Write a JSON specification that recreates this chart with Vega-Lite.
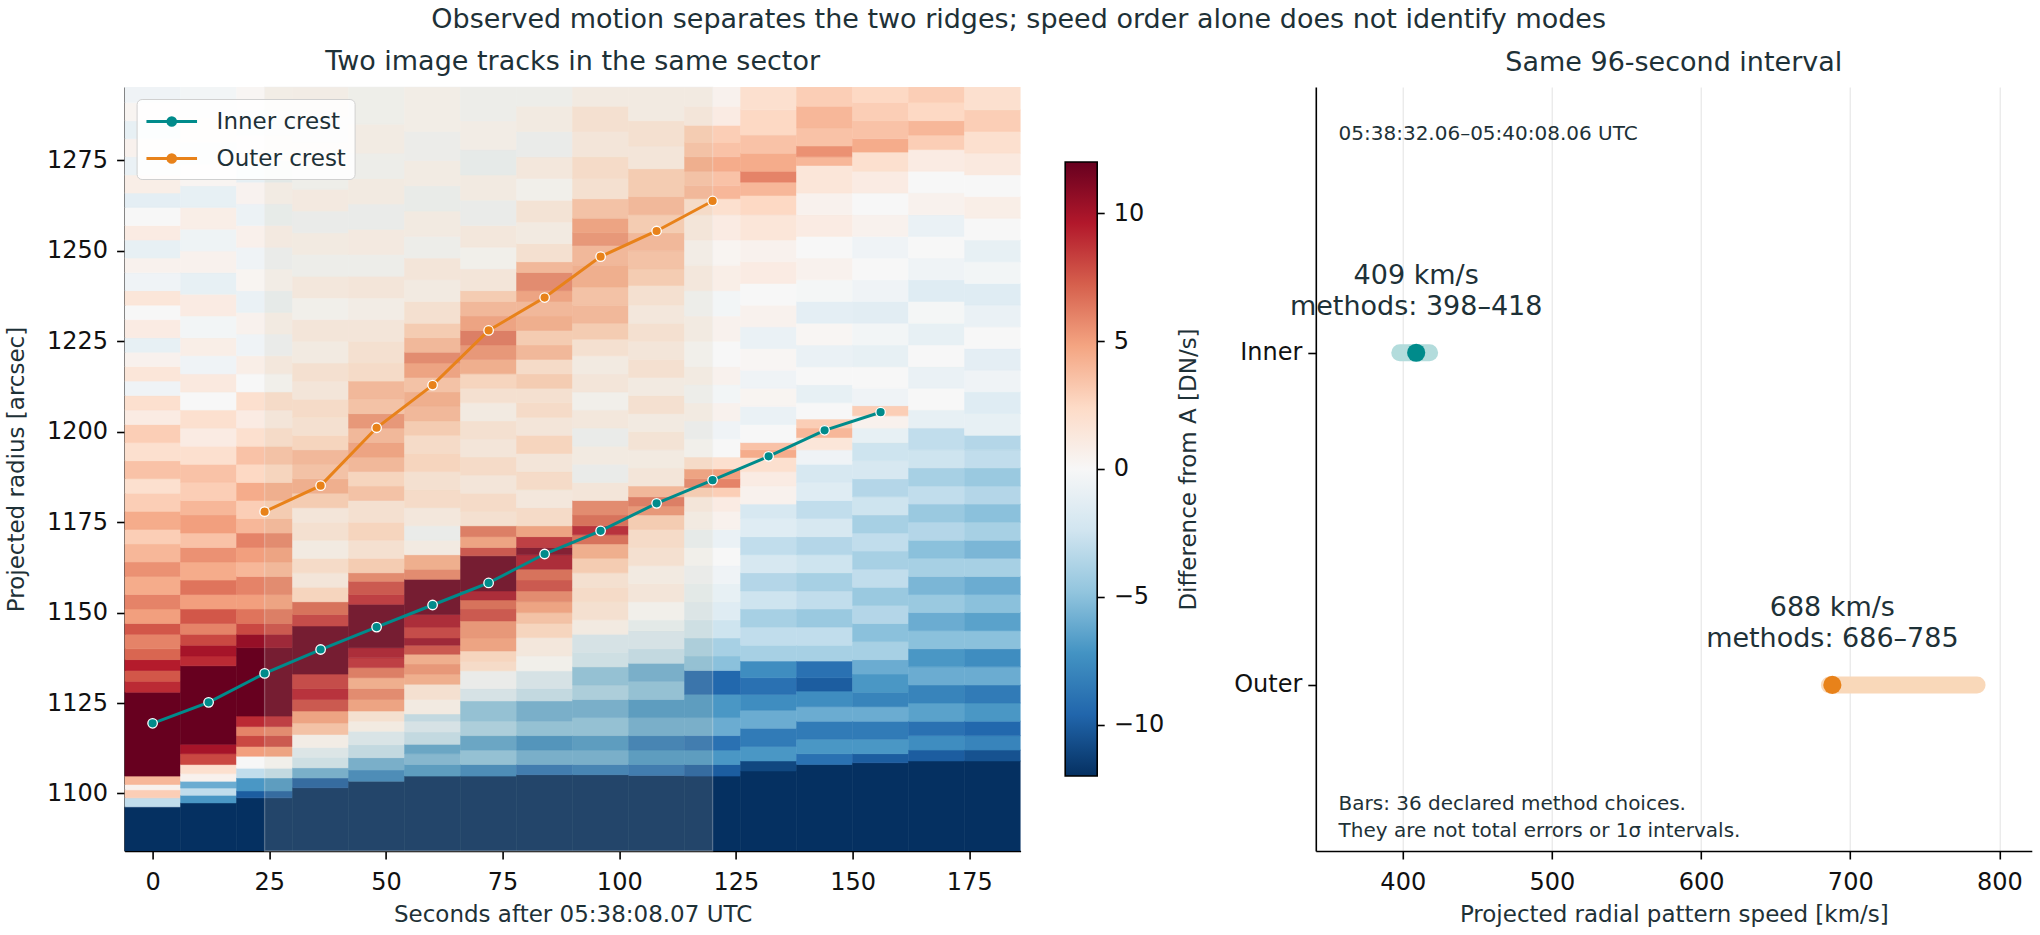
{
  "$schema": "https://vega.github.io/schema/vega-lite/v6.json",
  "padding": {"left": 4.6, "top": 6, "right": 4, "bottom": 4},
  "title": {"text": "Observed motion separates the two ridges; speed order alone does not identify modes", "anchor": "middle", "fontSize": 27, "offset": 14},
  "datasets": {
    "crest": [
      {"s": "Inner crest", "t": 0, "r": 1119.4}, {"s": "Inner crest", "t": 12, "r": 1125.2}, {"s": "Inner crest", "t": 24, "r": 1133.2},
      {"s": "Inner crest", "t": 36, "r": 1139.8}, {"s": "Inner crest", "t": 48, "r": 1146.0}, {"s": "Inner crest", "t": 60, "r": 1152.1},
      {"s": "Inner crest", "t": 72, "r": 1158.2}, {"s": "Inner crest", "t": 84, "r": 1166.2}, {"s": "Inner crest", "t": 96, "r": 1172.6},
      {"s": "Inner crest", "t": 108, "r": 1180.2}, {"s": "Inner crest", "t": 120, "r": 1186.6}, {"s": "Inner crest", "t": 132, "r": 1193.2},
      {"s": "Inner crest", "t": 144, "r": 1200.4}, {"s": "Inner crest", "t": 156, "r": 1205.4},
      {"s": "Outer crest", "t": 24, "r": 1177.9}, {"s": "Outer crest", "t": 36, "r": 1185.1}, {"s": "Outer crest", "t": 48, "r": 1201.1},
      {"s": "Outer crest", "t": 60, "r": 1212.9}, {"s": "Outer crest", "t": 72, "r": 1228.0}, {"s": "Outer crest", "t": 84, "r": 1237.1},
      {"s": "Outer crest", "t": 96, "r": 1248.4}, {"s": "Outer crest", "t": 108, "r": 1255.5}, {"s": "Outer crest", "t": 120, "r": 1263.8}
    ],
    "speed": [
      {"k": 1, "v": 409, "lo": 398, "hi": 418, "lab": ["409 km/s", "methods: 398–418"]},
      {"k": 0, "v": 688, "lo": 686, "hi": 785, "lab": ["688 km/s", "methods: 686–785"]}
    ],
    "heat": [
      {"t":-6,"u":6,"r":1083,"q":1096.3,"v":-12},{"t":-6,"u":6,"r":1096.3,"q":1098.8,"v":-3},{"t":-6,"u":6,"r":1098.8,"q":1101,"v":3},{"t":-6,"u":6,"r":1101,"q":1102.5,"v":0.5},
      {"t":-6,"u":6,"r":1102.5,"q":1104.8,"v":4},{"t":-6,"u":6,"r":1104.8,"q":1128,"v":12},{"t":-6,"u":6,"r":1128,"q":1131,"v":9},{"t":-6,"u":6,"r":1131,"q":1134,"v":7.5},
      {"t":-6,"u":6,"r":1134,"q":1137,"v":9.5},{"t":-6,"u":6,"r":1137,"q":1140,"v":7},{"t":-6,"u":6,"r":1140,"q":1144,"v":6},{"t":-6,"u":6,"r":1144,"q":1147,"v":7.5},
      {"t":-6,"u":6,"r":1147,"q":1151,"v":5},{"t":-6,"u":6,"r":1151,"q":1155,"v":6},{"t":-6,"u":6,"r":1155,"q":1160,"v":4.5},{"t":-6,"u":6,"r":1160,"q":1164,"v":5.5},
      {"t":-6,"u":6,"r":1164,"q":1169,"v":4},{"t":-6,"u":6,"r":1169,"q":1173,"v":3},{"t":-6,"u":6,"r":1173,"q":1178,"v":4.5},{"t":-6,"u":6,"r":1178,"q":1183,"v":3},
      {"t":-6,"u":6,"r":1183,"q":1187,"v":2},{"t":-6,"u":6,"r":1187,"q":1192,"v":3.5},{"t":-6,"u":6,"r":1192,"q":1197,"v":2},{"t":-6,"u":6,"r":1197,"q":1202,"v":3},
      {"t":-6,"u":6,"r":1202,"q":1206,"v":1},{"t":-6,"u":6,"r":1206,"q":1210,"v":2},{"t":-6,"u":6,"r":1210,"q":1214,"v":-0.5},{"t":-6,"u":6,"r":1214,"q":1218,"v":1.5},
      {"t":-6,"u":6,"r":1218,"q":1222,"v":0.5},{"t":-6,"u":6,"r":1222,"q":1226,"v":-1},{"t":-6,"u":6,"r":1226,"q":1231,"v":1},{"t":-6,"u":6,"r":1231,"q":1235,"v":0},
      {"t":-6,"u":6,"r":1235,"q":1239,"v":1.5},{"t":-6,"u":6,"r":1239,"q":1244,"v":-0.5},{"t":-6,"u":6,"r":1244,"q":1248,"v":0.5},{"t":-6,"u":6,"r":1248,"q":1253,"v":-1},
      {"t":-6,"u":6,"r":1253,"q":1257,"v":1},{"t":-6,"u":6,"r":1257,"q":1262,"v":0},{"t":-6,"u":6,"r":1262,"q":1266,"v":-1.2},{"t":-6,"u":6,"r":1266,"q":1271,"v":0.8},
      {"t":-6,"u":6,"r":1271,"q":1276,"v":-0.8},{"t":-6,"u":6,"r":1276,"q":1281,"v":0.5},{"t":-6,"u":6,"r":1281,"q":1286,"v":-1},{"t":-6,"u":6,"r":1286,"q":1291,"v":0.3},
      {"t":-6,"u":6,"r":1291,"q":1296,"v":-0.5},

      {"t":6,"u":18,"r":1083,"q":1097.4,"v":-12},{"t":6,"u":18,"r":1097.4,"q":1099.5,"v":-7},{"t":6,"u":18,"r":1099.5,"q":1101.5,"v":-3},{"t":6,"u":18,"r":1101.5,"q":1103.4,"v":-6},
      {"t":6,"u":18,"r":1103.4,"q":1105.5,"v":0.5},{"t":6,"u":18,"r":1105.5,"q":1108,"v":2},{"t":6,"u":18,"r":1108,"q":1111,"v":8},{"t":6,"u":18,"r":1111,"q":1113.6,"v":10},
      {"t":6,"u":18,"r":1113.6,"q":1135.3,"v":12},{"t":6,"u":18,"r":1135.3,"q":1138,"v":9},{"t":6,"u":18,"r":1138,"q":1141,"v":10},{"t":6,"u":18,"r":1141,"q":1144,"v":8},
      {"t":6,"u":18,"r":1144,"q":1147,"v":6},{"t":6,"u":18,"r":1147,"q":1151,"v":7.5},{"t":6,"u":18,"r":1151,"q":1155,"v":5},{"t":6,"u":18,"r":1155,"q":1159,"v":6.5},
      {"t":6,"u":18,"r":1159,"q":1164,"v":4.5},{"t":6,"u":18,"r":1164,"q":1168,"v":5.5},{"t":6,"u":18,"r":1168,"q":1172,"v":3.5},{"t":6,"u":18,"r":1172,"q":1177,"v":5},
      {"t":6,"u":18,"r":1177,"q":1181,"v":4},{"t":6,"u":18,"r":1181,"q":1186,"v":3},{"t":6,"u":18,"r":1186,"q":1191,"v":3.5},{"t":6,"u":18,"r":1191,"q":1196,"v":2},
      {"t":6,"u":18,"r":1196,"q":1201,"v":1},{"t":6,"u":18,"r":1201,"q":1206,"v":2},{"t":6,"u":18,"r":1206,"q":1211,"v":0},{"t":6,"u":18,"r":1211,"q":1216,"v":1.2},
      {"t":6,"u":18,"r":1216,"q":1221,"v":-0.5},{"t":6,"u":18,"r":1221,"q":1226,"v":0.8},{"t":6,"u":18,"r":1226,"q":1232,"v":-0.3},{"t":6,"u":18,"r":1232,"q":1238,"v":1},
      {"t":6,"u":18,"r":1238,"q":1244,"v":-1},{"t":6,"u":18,"r":1244,"q":1250,"v":0.5},{"t":6,"u":18,"r":1250,"q":1256,"v":-0.6},{"t":6,"u":18,"r":1256,"q":1262,"v":0.8},
      {"t":6,"u":18,"r":1262,"q":1268,"v":-1},{"t":6,"u":18,"r":1268,"q":1274,"v":0.3},{"t":6,"u":18,"r":1274,"q":1280,"v":-0.8},{"t":6,"u":18,"r":1280,"q":1287,"v":0.5},
      {"t":6,"u":18,"r":1287,"q":1296,"v":-0.3},

      {"t":18,"u":30,"r":1083,"q":1098.8,"v":-12},{"t":18,"u":30,"r":1098.8,"q":1100.7,"v":-10},{"t":18,"u":30,"r":1100.7,"q":1104.3,"v":-7},{"t":18,"u":30,"r":1104.3,"q":1107,"v":-3},
      {"t":18,"u":30,"r":1107,"q":1110.3,"v":0},{"t":18,"u":30,"r":1110.3,"q":1113,"v":5},{"t":18,"u":30,"r":1113,"q":1116,"v":8},{"t":18,"u":30,"r":1116,"q":1118.5,"v":6},
      {"t":18,"u":30,"r":1118.5,"q":1121.4,"v":9},{"t":18,"u":30,"r":1121.4,"q":1140.3,"v":12},{"t":18,"u":30,"r":1140.3,"q":1144,"v":10.5},{"t":18,"u":30,"r":1144,"q":1147,"v":8},
      {"t":18,"u":30,"r":1147,"q":1151,"v":6.5},{"t":18,"u":30,"r":1151,"q":1155,"v":5},{"t":18,"u":30,"r":1155,"q":1160,"v":6},{"t":18,"u":30,"r":1160,"q":1164,"v":4},
      {"t":18,"u":30,"r":1164,"q":1168,"v":5},{"t":18,"u":30,"r":1168,"q":1172,"v":6},{"t":18,"u":30,"r":1172,"q":1176,"v":4},{"t":18,"u":30,"r":1176,"q":1181,"v":3},
      {"t":18,"u":30,"r":1181,"q":1186,"v":4.5},{"t":18,"u":30,"r":1186,"q":1191,"v":2.5},{"t":18,"u":30,"r":1191,"q":1196,"v":3.5},{"t":18,"u":30,"r":1196,"q":1201,"v":2},
      {"t":18,"u":30,"r":1201,"q":1206,"v":1},{"t":18,"u":30,"r":1206,"q":1211,"v":2},{"t":18,"u":30,"r":1211,"q":1216,"v":0},{"t":18,"u":30,"r":1216,"q":1221,"v":0.8},
      {"t":18,"u":30,"r":1221,"q":1227,"v":-0.5},{"t":18,"u":30,"r":1227,"q":1233,"v":0.5},{"t":18,"u":30,"r":1233,"q":1239,"v":-0.8},{"t":18,"u":30,"r":1239,"q":1245,"v":0.3},
      {"t":18,"u":30,"r":1245,"q":1251,"v":-0.5},{"t":18,"u":30,"r":1251,"q":1257,"v":0.6},{"t":18,"u":30,"r":1257,"q":1263,"v":-0.7},{"t":18,"u":30,"r":1263,"q":1269,"v":0.4},
      {"t":18,"u":30,"r":1269,"q":1275,"v":-1},{"t":18,"u":30,"r":1275,"q":1282,"v":0.3},{"t":18,"u":30,"r":1282,"q":1289,"v":-0.5},{"t":18,"u":30,"r":1289,"q":1296,"v":0.2},

      {"t":30,"u":42,"r":1083,"q":1101.6,"v":-12},{"t":30,"u":42,"r":1101.6,"q":1104.3,"v":-10},{"t":30,"u":42,"r":1104.3,"q":1107.1,"v":-6},{"t":30,"u":42,"r":1107.1,"q":1110,"v":-2.5},
      {"t":30,"u":42,"r":1110,"q":1112.7,"v":-1.5},{"t":30,"u":42,"r":1112.7,"q":1116.3,"v":0.3},{"t":30,"u":42,"r":1116.3,"q":1119.5,"v":3.5},{"t":30,"u":42,"r":1119.5,"q":1122.8,"v":5},
      {"t":30,"u":42,"r":1122.8,"q":1126,"v":8},{"t":30,"u":42,"r":1126,"q":1129,"v":9.5},{"t":30,"u":42,"r":1129,"q":1133,"v":8.5},{"t":30,"u":42,"r":1133,"q":1146.3,"v":12},
      {"t":30,"u":42,"r":1146.3,"q":1149.5,"v":8.5},{"t":30,"u":42,"r":1149.5,"q":1153,"v":7},{"t":30,"u":42,"r":1153,"q":1157,"v":2.5},{"t":30,"u":42,"r":1157,"q":1161,"v":1},
      {"t":30,"u":42,"r":1161,"q":1165,"v":2},{"t":30,"u":42,"r":1165,"q":1170,"v":0.5},{"t":30,"u":42,"r":1170,"q":1175,"v":1.5},{"t":30,"u":42,"r":1175,"q":1179,"v":1},
      {"t":30,"u":42,"r":1179,"q":1183,"v":3},{"t":30,"u":42,"r":1183,"q":1187,"v":4.5},{"t":30,"u":42,"r":1187,"q":1191,"v":3.5},{"t":30,"u":42,"r":1191,"q":1195,"v":4},
      {"t":30,"u":42,"r":1195,"q":1199,"v":2.5},{"t":30,"u":42,"r":1199,"q":1204,"v":1.5},{"t":30,"u":42,"r":1204,"q":1209,"v":2},{"t":30,"u":42,"r":1209,"q":1214,"v":1},
      {"t":30,"u":42,"r":1214,"q":1219,"v":1.5},{"t":30,"u":42,"r":1219,"q":1225,"v":0.5},{"t":30,"u":42,"r":1225,"q":1231,"v":1},{"t":30,"u":42,"r":1231,"q":1237,"v":0},
      {"t":30,"u":42,"r":1237,"q":1243,"v":0.8},{"t":30,"u":42,"r":1243,"q":1249,"v":-0.3},{"t":30,"u":42,"r":1249,"q":1255,"v":0.5},{"t":30,"u":42,"r":1255,"q":1261,"v":-0.5},
      {"t":30,"u":42,"r":1261,"q":1267,"v":0.6},{"t":30,"u":42,"r":1267,"q":1273,"v":-0.2},{"t":30,"u":42,"r":1273,"q":1280,"v":0.5},{"t":30,"u":42,"r":1280,"q":1287,"v":-0.5},
      {"t":30,"u":42,"r":1287,"q":1296,"v":0.3},

      {"t":42,"u":54,"r":1083,"q":1103.4,"v":-12},{"t":42,"u":54,"r":1103.4,"q":1106.5,"v":-8},{"t":42,"u":54,"r":1106.5,"q":1109.9,"v":-6},{"t":42,"u":54,"r":1109.9,"q":1113.5,"v":-3},
      {"t":42,"u":54,"r":1113.5,"q":1117.2,"v":-1.8},{"t":42,"u":54,"r":1117.2,"q":1120,"v":0.5},{"t":42,"u":54,"r":1120,"q":1122.8,"v":1.5},{"t":42,"u":54,"r":1122.8,"q":1126,"v":5},
      {"t":42,"u":54,"r":1126,"q":1129,"v":6},{"t":42,"u":54,"r":1129,"q":1132,"v":4.5},{"t":42,"u":54,"r":1132,"q":1134.8,"v":6.5},{"t":42,"u":54,"r":1134.8,"q":1137.5,"v":9},
      {"t":42,"u":54,"r":1137.5,"q":1140.3,"v":10},{"t":42,"u":54,"r":1140.3,"q":1152.3,"v":12},{"t":42,"u":54,"r":1152.3,"q":1155,"v":9},{"t":42,"u":54,"r":1155,"q":1158.7,"v":8},
      {"t":42,"u":54,"r":1158.7,"q":1161,"v":6},{"t":42,"u":54,"r":1161,"q":1165,"v":3},{"t":42,"u":54,"r":1165,"q":1170,"v":1.5},{"t":42,"u":54,"r":1170,"q":1175,"v":2.5},
      {"t":42,"u":54,"r":1175,"q":1181,"v":1.5},{"t":42,"u":54,"r":1181,"q":1185,"v":3.5},{"t":42,"u":54,"r":1185,"q":1189,"v":2.5},{"t":42,"u":54,"r":1189,"q":1193,"v":4},
      {"t":42,"u":54,"r":1193,"q":1197,"v":5},{"t":42,"u":54,"r":1197,"q":1201,"v":4},{"t":42,"u":54,"r":1201,"q":1205,"v":5.5},{"t":42,"u":54,"r":1205,"q":1209,"v":3.5},
      {"t":42,"u":54,"r":1209,"q":1214,"v":4},{"t":42,"u":54,"r":1214,"q":1219,"v":2},{"t":42,"u":54,"r":1219,"q":1225,"v":1.5},{"t":42,"u":54,"r":1225,"q":1231,"v":1},
      {"t":42,"u":54,"r":1231,"q":1237,"v":0.3},{"t":42,"u":54,"r":1237,"q":1243,"v":1},{"t":42,"u":54,"r":1243,"q":1249,"v":-0.3},{"t":42,"u":54,"r":1249,"q":1256,"v":0.6},
      {"t":42,"u":54,"r":1256,"q":1263,"v":-0.5},{"t":42,"u":54,"r":1263,"q":1270,"v":0.5},{"t":42,"u":54,"r":1270,"q":1277,"v":-0.3},{"t":42,"u":54,"r":1277,"q":1285,"v":0.4},
      {"t":42,"u":54,"r":1285,"q":1296,"v":-0.2},

      {"t":54,"u":66,"r":1083,"q":1104.8,"v":-12},{"t":54,"u":66,"r":1104.8,"q":1108,"v":-7},{"t":54,"u":66,"r":1108,"q":1111,"v":-5.5},{"t":54,"u":66,"r":1111,"q":1113.6,"v":-6.5},
      {"t":54,"u":66,"r":1113.6,"q":1117,"v":-3},{"t":54,"u":66,"r":1117,"q":1120,"v":-2},{"t":54,"u":66,"r":1120,"q":1122,"v":-3},{"t":54,"u":66,"r":1122,"q":1126,"v":0.5},
      {"t":54,"u":66,"r":1126,"q":1130.2,"v":1.5},{"t":54,"u":66,"r":1130.2,"q":1133,"v":4.5},{"t":54,"u":66,"r":1133,"q":1135.8,"v":5.5},{"t":54,"u":66,"r":1135.8,"q":1138.5,"v":4.5},
      {"t":54,"u":66,"r":1138.5,"q":1141,"v":8},{"t":54,"u":66,"r":1141,"q":1143,"v":10.5},{"t":54,"u":66,"r":1143,"q":1146,"v":8.5},{"t":54,"u":66,"r":1146,"q":1149.5,"v":10},
      {"t":54,"u":66,"r":1149.5,"q":1159.2,"v":12},{"t":54,"u":66,"r":1159.2,"q":1162,"v":6},{"t":54,"u":66,"r":1162,"q":1166,"v":4.5},{"t":54,"u":66,"r":1166,"q":1170,"v":0.5},
      {"t":54,"u":66,"r":1170,"q":1174,"v":-0.5},{"t":54,"u":66,"r":1174,"q":1179,"v":0.8},{"t":54,"u":66,"r":1179,"q":1184,"v":2},{"t":54,"u":66,"r":1184,"q":1189,"v":1.5},
      {"t":54,"u":66,"r":1189,"q":1194,"v":2.5},{"t":54,"u":66,"r":1194,"q":1199,"v":2},{"t":54,"u":66,"r":1199,"q":1203,"v":3},{"t":54,"u":66,"r":1203,"q":1207,"v":4},
      {"t":54,"u":66,"r":1207,"q":1211,"v":4.5},{"t":54,"u":66,"r":1211,"q":1215,"v":3.5},{"t":54,"u":66,"r":1215,"q":1219,"v":5},{"t":54,"u":66,"r":1219,"q":1222,"v":6},
      {"t":54,"u":66,"r":1222,"q":1226,"v":4},{"t":54,"u":66,"r":1226,"q":1230,"v":3},{"t":54,"u":66,"r":1230,"q":1236,"v":1.5},{"t":54,"u":66,"r":1236,"q":1242,"v":0.5},
      {"t":54,"u":66,"r":1242,"q":1248,"v":1},{"t":54,"u":66,"r":1248,"q":1254,"v":-0.3},{"t":54,"u":66,"r":1254,"q":1261,"v":0.5},{"t":54,"u":66,"r":1261,"q":1268,"v":-0.6},
      {"t":54,"u":66,"r":1268,"q":1275,"v":0.4},{"t":54,"u":66,"r":1275,"q":1283,"v":-0.4},{"t":54,"u":66,"r":1283,"q":1296,"v":0.2},

      {"t":66,"u":78,"r":1083,"q":1104.8,"v":-12},{"t":66,"u":78,"r":1104.8,"q":1108,"v":-8},{"t":66,"u":78,"r":1108,"q":1112,"v":-5},{"t":66,"u":78,"r":1112,"q":1116,"v":-6.5},
      {"t":66,"u":78,"r":1116,"q":1120,"v":-4},{"t":66,"u":78,"r":1120,"q":1125.6,"v":-5},{"t":66,"u":78,"r":1125.6,"q":1129,"v":-2},{"t":66,"u":78,"r":1129,"q":1133.9,"v":-0.5},
      {"t":66,"u":78,"r":1133.9,"q":1136.5,"v":2},{"t":66,"u":78,"r":1136.5,"q":1139.4,"v":2.5},{"t":66,"u":78,"r":1139.4,"q":1143,"v":5},{"t":66,"u":78,"r":1143,"q":1147.7,"v":5.5},
      {"t":66,"u":78,"r":1147.7,"q":1151,"v":8},{"t":66,"u":78,"r":1151,"q":1153.5,"v":7},{"t":66,"u":78,"r":1153.5,"q":1156,"v":10},{"t":66,"u":78,"r":1156,"q":1165.7,"v":12},
      {"t":66,"u":78,"r":1165.7,"q":1168,"v":8},{"t":66,"u":78,"r":1168,"q":1171,"v":5},{"t":66,"u":78,"r":1171,"q":1174,"v":6.5},{"t":66,"u":78,"r":1174,"q":1178,"v":1.5},
      {"t":66,"u":78,"r":1178,"q":1183,"v":2},{"t":66,"u":78,"r":1183,"q":1188,"v":1},{"t":66,"u":78,"r":1188,"q":1193,"v":2},{"t":66,"u":78,"r":1193,"q":1198,"v":1},
      {"t":66,"u":78,"r":1198,"q":1203,"v":1.5},{"t":66,"u":78,"r":1203,"q":1208,"v":0.5},{"t":66,"u":78,"r":1208,"q":1212,"v":1.5},{"t":66,"u":78,"r":1212,"q":1216,"v":2.5},
      {"t":66,"u":78,"r":1216,"q":1220,"v":4.5},{"t":66,"u":78,"r":1220,"q":1224,"v":5.5},{"t":66,"u":78,"r":1224,"q":1228,"v":6.5},{"t":66,"u":78,"r":1228,"q":1232,"v":5},
      {"t":66,"u":78,"r":1232,"q":1236,"v":4},{"t":66,"u":78,"r":1236,"q":1239,"v":3},{"t":66,"u":78,"r":1239,"q":1245,"v":1},{"t":66,"u":78,"r":1245,"q":1251,"v":0},
      {"t":66,"u":78,"r":1251,"q":1257,"v":0.8},{"t":66,"u":78,"r":1257,"q":1264,"v":-0.5},{"t":66,"u":78,"r":1264,"q":1271,"v":0.5},{"t":66,"u":78,"r":1271,"q":1278,"v":-0.8},
      {"t":66,"u":78,"r":1278,"q":1286,"v":0.3},{"t":66,"u":78,"r":1286,"q":1296,"v":-0.3},

      {"t":78,"u":90,"r":1083,"q":1105.2,"v":-12},{"t":78,"u":90,"r":1105.2,"q":1108,"v":-9},{"t":78,"u":90,"r":1108,"q":1112,"v":-6},{"t":78,"u":90,"r":1112,"q":1116,"v":-7.5},
      {"t":78,"u":90,"r":1116,"q":1120,"v":-5},{"t":78,"u":90,"r":1120,"q":1125.6,"v":-6},{"t":78,"u":90,"r":1125.6,"q":1129,"v":-3},{"t":78,"u":90,"r":1129,"q":1133.9,"v":-2},
      {"t":78,"u":90,"r":1133.9,"q":1138,"v":0},{"t":78,"u":90,"r":1138,"q":1143.1,"v":0.8},{"t":78,"u":90,"r":1143.1,"q":1147,"v":2.5},{"t":78,"u":90,"r":1147,"q":1150,"v":3.5},
      {"t":78,"u":90,"r":1150,"q":1153,"v":5},{"t":78,"u":90,"r":1153,"q":1156,"v":6},{"t":78,"u":90,"r":1156,"q":1159,"v":8},{"t":78,"u":90,"r":1159,"q":1162,"v":7},
      {"t":78,"u":90,"r":1162,"q":1166,"v":10},{"t":78,"u":90,"r":1166,"q":1168,"v":11.5},{"t":78,"u":90,"r":1168,"q":1171,"v":9},{"t":78,"u":90,"r":1171,"q":1174,"v":5},
      {"t":78,"u":90,"r":1174,"q":1179,"v":2},{"t":78,"u":90,"r":1179,"q":1184,"v":0.8},{"t":78,"u":90,"r":1184,"q":1189,"v":2},{"t":78,"u":90,"r":1189,"q":1194,"v":1},
      {"t":78,"u":90,"r":1194,"q":1199,"v":2.5},{"t":78,"u":90,"r":1199,"q":1204,"v":1},{"t":78,"u":90,"r":1204,"q":1208,"v":2},{"t":78,"u":90,"r":1208,"q":1212,"v":1.5},
      {"t":78,"u":90,"r":1212,"q":1216,"v":3},{"t":78,"u":90,"r":1216,"q":1220,"v":2},{"t":78,"u":90,"r":1220,"q":1224,"v":4},{"t":78,"u":90,"r":1224,"q":1228,"v":3},
      {"t":78,"u":90,"r":1228,"q":1232,"v":4.5},{"t":78,"u":90,"r":1232,"q":1236,"v":4},{"t":78,"u":90,"r":1236,"q":1239,"v":5},{"t":78,"u":90,"r":1239,"q":1244,"v":6},
      {"t":78,"u":90,"r":1244,"q":1247,"v":4},{"t":78,"u":90,"r":1247,"q":1252,"v":1.5},{"t":78,"u":90,"r":1252,"q":1258,"v":0.5},{"t":78,"u":90,"r":1258,"q":1264,"v":1.2},
      {"t":78,"u":90,"r":1264,"q":1270,"v":0},{"t":78,"u":90,"r":1270,"q":1276,"v":0.8},{"t":78,"u":90,"r":1276,"q":1283,"v":-0.5},{"t":78,"u":90,"r":1283,"q":1290,"v":0.5},
      {"t":78,"u":90,"r":1290,"q":1296,"v":-0.3},

      {"t":90,"u":102,"r":1083,"q":1105.2,"v":-12},{"t":90,"u":102,"r":1105.2,"q":1108,"v":-8.5},{"t":90,"u":102,"r":1108,"q":1112,"v":-6},{"t":90,"u":102,"r":1112,"q":1116,"v":-7},
      {"t":90,"u":102,"r":1116,"q":1121,"v":-5},{"t":90,"u":102,"r":1121,"q":1126,"v":-6},{"t":90,"u":102,"r":1126,"q":1130,"v":-4},{"t":90,"u":102,"r":1130,"q":1135,"v":-5},
      {"t":90,"u":102,"r":1135,"q":1139,"v":-2.5},{"t":90,"u":102,"r":1139,"q":1144,"v":-2},{"t":90,"u":102,"r":1144,"q":1148,"v":0.5},{"t":90,"u":102,"r":1148,"q":1153,"v":1.5},
      {"t":90,"u":102,"r":1153,"q":1157,"v":2},{"t":90,"u":102,"r":1157,"q":1161,"v":1.5},{"t":90,"u":102,"r":1161,"q":1165,"v":3},{"t":90,"u":102,"r":1165,"q":1169,"v":4.5},
      {"t":90,"u":102,"r":1169,"q":1171.5,"v":7},{"t":90,"u":102,"r":1171.5,"q":1174,"v":9.5},{"t":90,"u":102,"r":1174,"q":1177,"v":7},{"t":90,"u":102,"r":1177,"q":1181,"v":6},
      {"t":90,"u":102,"r":1181,"q":1186,"v":1},{"t":90,"u":102,"r":1186,"q":1191,"v":-0.5},{"t":90,"u":102,"r":1191,"q":1196,"v":0.5},{"t":90,"u":102,"r":1196,"q":1201,"v":-0.5},
      {"t":90,"u":102,"r":1201,"q":1206,"v":0.8},{"t":90,"u":102,"r":1206,"q":1211,"v":0},{"t":90,"u":102,"r":1211,"q":1216,"v":1},{"t":90,"u":102,"r":1216,"q":1221,"v":0.5},
      {"t":90,"u":102,"r":1221,"q":1225.6,"v":1.5},{"t":90,"u":102,"r":1225.6,"q":1230,"v":3},{"t":90,"u":102,"r":1230,"q":1235,"v":4},{"t":90,"u":102,"r":1235,"q":1240,"v":3.5},
      {"t":90,"u":102,"r":1240,"q":1246,"v":4.5},{"t":90,"u":102,"r":1246,"q":1251.5,"v":4},{"t":90,"u":102,"r":1251.5,"q":1255,"v":5.5},{"t":90,"u":102,"r":1255,"q":1259,"v":5},
      {"t":90,"u":102,"r":1259,"q":1264.4,"v":3.5},{"t":90,"u":102,"r":1264.4,"q":1270,"v":1.5},{"t":90,"u":102,"r":1270,"q":1276,"v":2},{"t":90,"u":102,"r":1276,"q":1283,"v":1},
      {"t":90,"u":102,"r":1283,"q":1290,"v":1.5},{"t":90,"u":102,"r":1290,"q":1296,"v":0.5},

      {"t":102,"u":114,"r":1083,"q":1105,"v":-12},{"t":102,"u":114,"r":1105,"q":1108,"v":-9},{"t":102,"u":114,"r":1108,"q":1112,"v":-7},{"t":102,"u":114,"r":1112,"q":1116,"v":-8.5},
      {"t":102,"u":114,"r":1116,"q":1121,"v":-6},{"t":102,"u":114,"r":1121,"q":1126,"v":-7},{"t":102,"u":114,"r":1126,"q":1131,"v":-5},{"t":102,"u":114,"r":1131,"q":1136,"v":-6},
      {"t":102,"u":114,"r":1136,"q":1140,"v":-3},{"t":102,"u":114,"r":1140,"q":1145,"v":-2},{"t":102,"u":114,"r":1145,"q":1148,"v":-1},{"t":102,"u":114,"r":1148,"q":1153,"v":0},
      {"t":102,"u":114,"r":1153,"q":1158,"v":1},{"t":102,"u":114,"r":1158,"q":1163,"v":0.5},{"t":102,"u":114,"r":1163,"q":1168,"v":1.5},{"t":102,"u":114,"r":1168,"q":1173,"v":2},
      {"t":102,"u":114,"r":1173,"q":1177,"v":3},{"t":102,"u":114,"r":1177,"q":1179.5,"v":5.5},{"t":102,"u":114,"r":1179.5,"q":1182,"v":6.5},{"t":102,"u":114,"r":1182,"q":1185,"v":4},
      {"t":102,"u":114,"r":1185,"q":1190,"v":1},{"t":102,"u":114,"r":1190,"q":1195,"v":0.5},{"t":102,"u":114,"r":1195,"q":1200,"v":1.2},{"t":102,"u":114,"r":1200,"q":1205,"v":0.5},
      {"t":102,"u":114,"r":1205,"q":1210,"v":1.5},{"t":102,"u":114,"r":1210,"q":1215,"v":0.5},{"t":102,"u":114,"r":1215,"q":1220,"v":1.5},{"t":102,"u":114,"r":1220,"q":1225,"v":1},
      {"t":102,"u":114,"r":1225,"q":1230,"v":1.5},{"t":102,"u":114,"r":1230,"q":1235,"v":0.8},{"t":102,"u":114,"r":1235,"q":1240.4,"v":1.5},{"t":102,"u":114,"r":1240.4,"q":1245,"v":3},
      {"t":102,"u":114,"r":1245,"q":1250,"v":3.5},{"t":102,"u":114,"r":1250,"q":1255,"v":4},{"t":102,"u":114,"r":1255,"q":1260,"v":3},{"t":102,"u":114,"r":1260,"q":1265,"v":4},
      {"t":102,"u":114,"r":1265,"q":1272.7,"v":3},{"t":102,"u":114,"r":1272.7,"q":1279,"v":1},{"t":102,"u":114,"r":1279,"q":1286,"v":1.5},{"t":102,"u":114,"r":1286,"q":1296,"v":0.5},

      {"t":114,"u":126,"r":1083,"q":1104.8,"v":-12},{"t":114,"u":126,"r":1104.8,"q":1108,"v":-10},{"t":114,"u":126,"r":1108,"q":1112,"v":-7},{"t":114,"u":126,"r":1112,"q":1116,"v":-9},
      {"t":114,"u":126,"r":1116,"q":1121,"v":-6},{"t":114,"u":126,"r":1121,"q":1127.4,"v":-7},{"t":114,"u":126,"r":1127.4,"q":1134,"v":-9.5},{"t":114,"u":126,"r":1134,"q":1138,"v":-5},
      {"t":114,"u":126,"r":1138,"q":1143,"v":-4},{"t":114,"u":126,"r":1143,"q":1148,"v":-2.5},{"t":114,"u":126,"r":1148,"q":1153,"v":-1.5},{"t":114,"u":126,"r":1153,"q":1158,"v":-1},
      {"t":114,"u":126,"r":1158,"q":1163,"v":-0.5},{"t":114,"u":126,"r":1163,"q":1168,"v":0},{"t":114,"u":126,"r":1168,"q":1173,"v":-0.8},{"t":114,"u":126,"r":1173,"q":1178,"v":0.5},
      {"t":114,"u":126,"r":1178,"q":1182,"v":1},{"t":114,"u":126,"r":1182,"q":1184.6,"v":3},{"t":114,"u":126,"r":1184.6,"q":1187,"v":6},{"t":114,"u":126,"r":1187,"q":1189.7,"v":5},
      {"t":114,"u":126,"r":1189.7,"q":1193,"v":2},{"t":114,"u":126,"r":1193,"q":1198,"v":0},{"t":114,"u":126,"r":1198,"q":1203,"v":-0.5},{"t":114,"u":126,"r":1203,"q":1208,"v":0.5},
      {"t":114,"u":126,"r":1208,"q":1213,"v":-0.3},{"t":114,"u":126,"r":1213,"q":1218,"v":0.5},{"t":114,"u":126,"r":1218,"q":1225,"v":0},{"t":114,"u":126,"r":1225,"q":1232,"v":0.5},
      {"t":114,"u":126,"r":1232,"q":1239,"v":-0.3},{"t":114,"u":126,"r":1239,"q":1246,"v":0.8},{"t":114,"u":126,"r":1246,"q":1253,"v":0.3},{"t":114,"u":126,"r":1253,"q":1260,"v":1},
      {"t":114,"u":126,"r":1260,"q":1264.4,"v":2},{"t":114,"u":126,"r":1264.4,"q":1268,"v":4},{"t":114,"u":126,"r":1268,"q":1272,"v":3.5},{"t":114,"u":126,"r":1272,"q":1276,"v":4.5},
      {"t":114,"u":126,"r":1276,"q":1280,"v":3.5},{"t":114,"u":126,"r":1280,"q":1284.7,"v":3},{"t":114,"u":126,"r":1284.7,"q":1290,"v":1},{"t":114,"u":126,"r":1290,"q":1296,"v":0.5},

      {"t":126,"u":138,"r":1083,"q":1106.2,"v":-12},{"t":126,"u":138,"r":1106.2,"q":1109,"v":-11},{"t":126,"u":138,"r":1109,"q":1113,"v":-7},{"t":126,"u":138,"r":1113,"q":1118,"v":-8.5},
      {"t":126,"u":138,"r":1118,"q":1123,"v":-6},{"t":126,"u":138,"r":1123,"q":1127.4,"v":-7.5},{"t":126,"u":138,"r":1127.4,"q":1132,"v":-9},{"t":126,"u":138,"r":1132,"q":1136.6,"v":-7.5},
      {"t":126,"u":138,"r":1136.6,"q":1141,"v":-4},{"t":126,"u":138,"r":1141,"q":1146,"v":-3},{"t":126,"u":138,"r":1146,"q":1151,"v":-4},{"t":126,"u":138,"r":1151,"q":1156,"v":-2.5},
      {"t":126,"u":138,"r":1156,"q":1161,"v":-3.5},{"t":126,"u":138,"r":1161,"q":1166,"v":-2},{"t":126,"u":138,"r":1166,"q":1171,"v":-3},{"t":126,"u":138,"r":1171,"q":1176,"v":-1.5},
      {"t":126,"u":138,"r":1176,"q":1180,"v":-2},{"t":126,"u":138,"r":1180,"q":1185,"v":0.5},{"t":126,"u":138,"r":1185,"q":1189,"v":1},{"t":126,"u":138,"r":1189,"q":1192.9,"v":2},
      {"t":126,"u":138,"r":1192.9,"q":1195,"v":4.5},{"t":126,"u":138,"r":1195,"q":1197,"v":3.5},{"t":126,"u":138,"r":1197,"q":1202,"v":0},{"t":126,"u":138,"r":1202,"q":1207,"v":-0.8},
      {"t":126,"u":138,"r":1207,"q":1212,"v":0.3},{"t":126,"u":138,"r":1212,"q":1217,"v":-0.5},{"t":126,"u":138,"r":1217,"q":1223,"v":0.2},{"t":126,"u":138,"r":1223,"q":1229,"v":-0.8},
      {"t":126,"u":138,"r":1229,"q":1235,"v":0.5},{"t":126,"u":138,"r":1235,"q":1241,"v":0},{"t":126,"u":138,"r":1241,"q":1247,"v":1},{"t":126,"u":138,"r":1247,"q":1253,"v":0.5},
      {"t":126,"u":138,"r":1253,"q":1260,"v":1.5},{"t":126,"u":138,"r":1260,"q":1265.3,"v":2.5},{"t":126,"u":138,"r":1265.3,"q":1269,"v":4},{"t":126,"u":138,"r":1269,"q":1272,"v":6},
      {"t":126,"u":138,"r":1272,"q":1277,"v":4.5},{"t":126,"u":138,"r":1277,"q":1282,"v":3.5},{"t":126,"u":138,"r":1282,"q":1289,"v":2.5},{"t":126,"u":138,"r":1289,"q":1296,"v":2},

      {"t":138,"u":150,"r":1083,"q":1108,"v":-12},{"t":138,"u":150,"r":1108,"q":1111,"v":-9},{"t":138,"u":150,"r":1111,"q":1115,"v":-7},{"t":138,"u":150,"r":1115,"q":1120,"v":-8.5},
      {"t":138,"u":150,"r":1120,"q":1124,"v":-6},{"t":138,"u":150,"r":1124,"q":1128.3,"v":-7.5},{"t":138,"u":150,"r":1128.3,"q":1132,"v":-10},{"t":138,"u":150,"r":1132,"q":1136.6,"v":-9},
      {"t":138,"u":150,"r":1136.6,"q":1141,"v":-4},{"t":138,"u":150,"r":1141,"q":1146,"v":-3},{"t":138,"u":150,"r":1146,"q":1151,"v":-4.5},{"t":138,"u":150,"r":1151,"q":1156,"v":-3},
      {"t":138,"u":150,"r":1156,"q":1161,"v":-4},{"t":138,"u":150,"r":1161,"q":1166,"v":-2.5},{"t":138,"u":150,"r":1166,"q":1171,"v":-3.5},{"t":138,"u":150,"r":1171,"q":1176,"v":-2},
      {"t":138,"u":150,"r":1176,"q":1181,"v":-3},{"t":138,"u":150,"r":1181,"q":1186,"v":-1.5},{"t":138,"u":150,"r":1186,"q":1191,"v":-2},{"t":138,"u":150,"r":1191,"q":1195,"v":-0.5},
      {"t":138,"u":150,"r":1195,"q":1198.4,"v":1.5},{"t":138,"u":150,"r":1198.4,"q":1201,"v":4},{"t":138,"u":150,"r":1201,"q":1203.5,"v":3},{"t":138,"u":150,"r":1203.5,"q":1208,"v":0},
      {"t":138,"u":150,"r":1208,"q":1213,"v":-1},{"t":138,"u":150,"r":1213,"q":1218,"v":0},{"t":138,"u":150,"r":1218,"q":1224,"v":-0.8},{"t":138,"u":150,"r":1224,"q":1230,"v":0.2},
      {"t":138,"u":150,"r":1230,"q":1236,"v":-1.2},{"t":138,"u":150,"r":1236,"q":1242,"v":-0.2},{"t":138,"u":150,"r":1242,"q":1248,"v":0.5},{"t":138,"u":150,"r":1248,"q":1254,"v":0},
      {"t":138,"u":150,"r":1254,"q":1260,"v":1},{"t":138,"u":150,"r":1260,"q":1266,"v":0.5},{"t":138,"u":150,"r":1266,"q":1273.6,"v":1.5},{"t":138,"u":150,"r":1273.6,"q":1276,"v":4},
      {"t":138,"u":150,"r":1276,"q":1279,"v":5.5},{"t":138,"u":150,"r":1279,"q":1284,"v":3.5},{"t":138,"u":150,"r":1284,"q":1290,"v":4},{"t":138,"u":150,"r":1290,"q":1296,"v":3},

      {"t":150,"u":162,"r":1083,"q":1108.5,"v":-12},{"t":150,"u":162,"r":1108.5,"q":1111,"v":-10},{"t":150,"u":162,"r":1111,"q":1115,"v":-7},{"t":150,"u":162,"r":1115,"q":1120,"v":-8.5},
      {"t":150,"u":162,"r":1120,"q":1124,"v":-6},{"t":150,"u":162,"r":1124,"q":1128,"v":-8},{"t":150,"u":162,"r":1128,"q":1133,"v":-7},{"t":150,"u":162,"r":1133,"q":1137,"v":-6},
      {"t":150,"u":162,"r":1137,"q":1142,"v":-4},{"t":150,"u":162,"r":1142,"q":1147,"v":-5},{"t":150,"u":162,"r":1147,"q":1152,"v":-3.5},{"t":150,"u":162,"r":1152,"q":1157,"v":-4.5},
      {"t":150,"u":162,"r":1157,"q":1162,"v":-3},{"t":150,"u":162,"r":1162,"q":1167,"v":-4},{"t":150,"u":162,"r":1167,"q":1172,"v":-3},{"t":150,"u":162,"r":1172,"q":1177,"v":-4},
      {"t":150,"u":162,"r":1177,"q":1182,"v":-2.5},{"t":150,"u":162,"r":1182,"q":1187,"v":-3.5},{"t":150,"u":162,"r":1187,"q":1192,"v":-2},{"t":150,"u":162,"r":1192,"q":1197,"v":-2.5},
      {"t":150,"u":162,"r":1197,"q":1201,"v":-1},{"t":150,"u":162,"r":1201,"q":1204.4,"v":0.5},{"t":150,"u":162,"r":1204.4,"q":1207.2,"v":3},{"t":150,"u":162,"r":1207.2,"q":1212,"v":-0.5},
      {"t":150,"u":162,"r":1212,"q":1218,"v":0},{"t":150,"u":162,"r":1218,"q":1224,"v":-1},{"t":150,"u":162,"r":1224,"q":1230,"v":-0.3},{"t":150,"u":162,"r":1230,"q":1236,"v":-1.3},
      {"t":150,"u":162,"r":1236,"q":1242,"v":-0.5},{"t":150,"u":162,"r":1242,"q":1248,"v":0},{"t":150,"u":162,"r":1248,"q":1254,"v":-0.5},{"t":150,"u":162,"r":1254,"q":1260,"v":0.5},
      {"t":150,"u":162,"r":1260,"q":1266,"v":0},{"t":150,"u":162,"r":1266,"q":1272,"v":1},{"t":150,"u":162,"r":1272,"q":1277.3,"v":2},{"t":150,"u":162,"r":1277.3,"q":1281,"v":4.5},
      {"t":150,"u":162,"r":1281,"q":1286,"v":3.5},{"t":150,"u":162,"r":1286,"q":1291,"v":3},{"t":150,"u":162,"r":1291,"q":1296,"v":2.5},

      {"t":162,"u":174,"r":1083,"q":1109,"v":-12},{"t":162,"u":174,"r":1109,"q":1112,"v":-10},{"t":162,"u":174,"r":1112,"q":1116,"v":-7.5},{"t":162,"u":174,"r":1116,"q":1120,"v":-9},
      {"t":162,"u":174,"r":1120,"q":1125,"v":-6.5},{"t":162,"u":174,"r":1125,"q":1130,"v":-8},{"t":162,"u":174,"r":1130,"q":1135,"v":-6},{"t":162,"u":174,"r":1135,"q":1140,"v":-7},
      {"t":162,"u":174,"r":1140,"q":1145,"v":-5},{"t":162,"u":174,"r":1145,"q":1150,"v":-6},{"t":162,"u":174,"r":1150,"q":1155,"v":-4.5},{"t":162,"u":174,"r":1155,"q":1160,"v":-5.5},
      {"t":162,"u":174,"r":1160,"q":1165,"v":-4},{"t":162,"u":174,"r":1165,"q":1170,"v":-5},{"t":162,"u":174,"r":1170,"q":1175,"v":-3.5},{"t":162,"u":174,"r":1175,"q":1180,"v":-4.5},
      {"t":162,"u":174,"r":1180,"q":1185,"v":-3},{"t":162,"u":174,"r":1185,"q":1190,"v":-4},{"t":162,"u":174,"r":1190,"q":1195,"v":-2.5},{"t":162,"u":174,"r":1195,"q":1201,"v":-3},
      {"t":162,"u":174,"r":1201,"q":1206,"v":-1},{"t":162,"u":174,"r":1206,"q":1212,"v":0},{"t":162,"u":174,"r":1212,"q":1218,"v":-0.8},{"t":162,"u":174,"r":1218,"q":1224,"v":0},
      {"t":162,"u":174,"r":1224,"q":1230,"v":-1},{"t":162,"u":174,"r":1230,"q":1236,"v":-0.2},{"t":162,"u":174,"r":1236,"q":1242,"v":-1.5},{"t":162,"u":174,"r":1242,"q":1248,"v":-0.5},
      {"t":162,"u":174,"r":1248,"q":1254,"v":0},{"t":162,"u":174,"r":1254,"q":1260,"v":-0.8},{"t":162,"u":174,"r":1260,"q":1266,"v":0.5},{"t":162,"u":174,"r":1266,"q":1272,"v":0},
      {"t":162,"u":174,"r":1272,"q":1278,"v":1},{"t":162,"u":174,"r":1278,"q":1282,"v":3},{"t":162,"u":174,"r":1282,"q":1286,"v":4},{"t":162,"u":174,"r":1286,"q":1291,"v":2.5},
      {"t":162,"u":174,"r":1291,"q":1296,"v":3},

      {"t":174,"u":186,"r":1083,"q":1109,"v":-12},{"t":174,"u":186,"r":1109,"q":1112,"v":-10.5},{"t":174,"u":186,"r":1112,"q":1116,"v":-8},{"t":174,"u":186,"r":1116,"q":1120,"v":-9.5},
      {"t":174,"u":186,"r":1120,"q":1125,"v":-7},{"t":174,"u":186,"r":1125,"q":1130,"v":-8.5},{"t":174,"u":186,"r":1130,"q":1135,"v":-6},{"t":174,"u":186,"r":1135,"q":1140,"v":-7.5},
      {"t":174,"u":186,"r":1140,"q":1145,"v":-5},{"t":174,"u":186,"r":1145,"q":1150,"v":-6.5},{"t":174,"u":186,"r":1150,"q":1155,"v":-5},{"t":174,"u":186,"r":1155,"q":1160,"v":-6},
      {"t":174,"u":186,"r":1160,"q":1165,"v":-4},{"t":174,"u":186,"r":1165,"q":1170,"v":-5.5},{"t":174,"u":186,"r":1170,"q":1175,"v":-4},{"t":174,"u":186,"r":1175,"q":1180,"v":-5},
      {"t":174,"u":186,"r":1180,"q":1185,"v":-3.5},{"t":174,"u":186,"r":1185,"q":1190,"v":-4.5},{"t":174,"u":186,"r":1190,"q":1195,"v":-3},{"t":174,"u":186,"r":1195,"q":1199,"v":-3.5},
      {"t":174,"u":186,"r":1199,"q":1205,"v":-1},{"t":174,"u":186,"r":1205,"q":1211,"v":-1.5},{"t":174,"u":186,"r":1211,"q":1217,"v":-0.5},{"t":174,"u":186,"r":1217,"q":1223,"v":-1.2},
      {"t":174,"u":186,"r":1223,"q":1229,"v":0},{"t":174,"u":186,"r":1229,"q":1235,"v":-0.8},{"t":174,"u":186,"r":1235,"q":1241,"v":-1.5},{"t":174,"u":186,"r":1241,"q":1247,"v":-0.3},
      {"t":174,"u":186,"r":1247,"q":1253,"v":-1},{"t":174,"u":186,"r":1253,"q":1259,"v":0},{"t":174,"u":186,"r":1259,"q":1265,"v":0.8},{"t":174,"u":186,"r":1265,"q":1271,"v":0},
      {"t":174,"u":186,"r":1271,"q":1277,"v":1.2},{"t":174,"u":186,"r":1277,"q":1283,"v":2},{"t":174,"u":186,"r":1283,"q":1289,"v":3},{"t":174,"u":186,"r":1289,"q":1296,"v":2}
    ]
  },
  "hconcat": [
    {
      "width": 896,
      "height": 764,
      "title": {"text": "Two image tracks in the same sector", "anchor": "middle", "offset": 10},
      "layer": [
        {
          "data": {"name": "heat"},
          "mark": {"type": "rect", "clip": true, "strokeWidth": 0.6},
          "encoding": {
            "x": {"field": "t", "type": "quantitative", "scale": {"domain": [-6, 186], "nice": false, "zero": false},
                  "axis": {"values": [0, 25, 50, 75, 100, 125, 150, 175], "title": "Seconds after 05:38:08.07 UTC"}},
            "x2": {"field": "u"},
            "y": {"field": "r", "type": "quantitative", "scale": {"domain": [1084.1, 1295.3], "nice": false, "zero": false},
                  "axis": {"values": [1100, 1125, 1150, 1175, 1200, 1225, 1250, 1275], "format": "d", "title": "Projected radius [arcsec]", "labelPadding": 9, "titlePadding": 18}},
            "y2": {"field": "q"},
            "fill": {"field": "v", "type": "quantitative", "legend": null,
              "scale": {"type": "linear", "interpolate": "rgb", "nice": false, "zero": false,
                "domain": [-12, -9.6, -7.2, -4.8, -2.4, 0, 2.4, 4.8, 7.2, 9.6, 12],
                "range": ["#053061", "#2166ac", "#4393c3", "#92c5de", "#d1e5f0", "#f7f7f7", "#fddbc7", "#f4a582", "#d6604d", "#b2182b", "#67001f"]}},
            "stroke": {"field": "v", "type": "quantitative", "legend": null,
              "scale": {"type": "linear", "interpolate": "rgb", "nice": false, "zero": false,
                "domain": [-12, -9.6, -7.2, -4.8, -2.4, 0, 2.4, 4.8, 7.2, 9.6, 12],
                "range": ["#053061", "#2166ac", "#4393c3", "#92c5de", "#d1e5f0", "#f7f7f7", "#fddbc7", "#f4a582", "#d6604d", "#b2182b", "#67001f"]}}
          }
        },
        {
          "data": {"values": [{"t": 24, "u": 120}]},
          "mark": {"type": "rect", "fill": "#d2c4a0", "fillOpacity": 0.15, "stroke": "#f0f0f0", "strokeOpacity": 0.3, "strokeWidth": 1.3},
          "encoding": {
            "x": {"field": "t", "type": "quantitative"},
            "x2": {"field": "u"}
          }
        },
        {
          "data": {"name": "crest"},
          "mark": {"type": "line", "strokeWidth": 3},
          "encoding": {
            "x": {"field": "t", "type": "quantitative"},
            "y": {"field": "r", "type": "quantitative"},
            "color": {"field": "s", "type": "nominal", "scale": {"domain": ["Inner crest", "Outer crest"], "range": ["#008b8b", "#e8821a"]},
              "legend": {"title": null, "orient": "top-left", "offset": 12,
                "symbolType": "M-1,0H3M1.3,0A0.3,0.3,0,1,1,0.7,0A0.3,0.3,0,1,1,1.3,0",
                "symbolSize": 640, "symbolStrokeWidth": 3,
                "labelFontSize": 23, "labelColor": "#1e3137", "labelFont": "DejaVu Sans",
                "labelOffset": 43, "rowPadding": 10, "padding": 8,
                "fillColor": "rgba(255,255,255,0.88)", "strokeColor": "#d0d0d0", "cornerRadius": 5,
                "encode": {"symbols": {"update": {
                  "fill": {"signal": "datum.value === 'Inner crest' ? '#008b8b' : '#e8821a'"},
                  "stroke": {"signal": "datum.value === 'Inner crest' ? '#008b8b' : '#e8821a'"},
                  "opacity": {"value": 1}}}}}}
          }
        },
        {
          "data": {"name": "crest"},
          "mark": {"type": "circle", "size": 90, "opacity": 1, "stroke": "#ffffff", "strokeWidth": 1.3},
          "encoding": {
            "x": {"field": "t", "type": "quantitative"},
            "y": {"field": "r", "type": "quantitative"},
            "color": {"field": "s", "type": "nominal", "scale": {"domain": ["Inner crest", "Outer crest"], "range": ["#008b8b", "#e8821a"]},
              "legend": {"title": null, "orient": "top-left", "offset": 12,
                "symbolType": "M-1,0H3M1.3,0A0.3,0.3,0,1,1,0.7,0A0.3,0.3,0,1,1,1.3,0",
                "symbolSize": 640, "symbolStrokeWidth": 3,
                "labelFontSize": 23, "labelColor": "#1e3137", "labelFont": "DejaVu Sans",
                "labelOffset": 43, "rowPadding": 10, "padding": 8,
                "fillColor": "rgba(255,255,255,0.88)", "strokeColor": "#d0d0d0", "cornerRadius": 5,
                "encode": {"symbols": {"update": {
                  "fill": {"signal": "datum.value === 'Inner crest' ? '#008b8b' : '#e8821a'"},
                  "stroke": {"signal": "datum.value === 'Inner crest' ? '#008b8b' : '#e8821a'"},
                  "opacity": {"value": 1}}}}}}
          }
        }
      ]
    },
    {
      "width": 205.9,
      "height": 764,
      "data": {"values": [{"lo": -12, "hi": 12}]},
      "mark": {"type": "rect", "stroke": "#000000", "strokeWidth": 1.6,
        "fill": {"gradient": "linear", "x1": 0, "y1": 1, "x2": 0, "y2": 0,
          "stops": [
            {"offset": 0, "color": "#053061"}, {"offset": 0.1, "color": "#2166ac"}, {"offset": 0.2, "color": "#4393c3"},
            {"offset": 0.3, "color": "#92c5de"}, {"offset": 0.4, "color": "#d1e5f0"}, {"offset": 0.5, "color": "#f7f7f7"},
            {"offset": 0.6, "color": "#fddbc7"}, {"offset": 0.7, "color": "#f4a582"}, {"offset": 0.8, "color": "#d6604d"},
            {"offset": 0.9, "color": "#b2182b"}, {"offset": 1, "color": "#67001f"}]}},
      "encoding": {
        "x": {"datum": 0, "type": "quantitative", "scale": {"domain": [0, 205.9], "nice": false, "zero": false}, "axis": null},
        "x2": {"datum": 32},
        "y": {"field": "lo", "type": "quantitative", "scale": {"domain": [-14.93, 14.93], "nice": false, "zero": false},
              "axis": {"orient": "right", "offset": -173.9, "values": [-10, -5, 0, 5, 10], "domain": false, "tickSize": 7, "labelPadding": 9,
                       "title": "Difference from A [DN/s]", "titleAngle": 270, "titleBaseline": "top", "titlePadding": 14}},
        "y2": {"field": "hi"}
      }
    },
    {
      "width": 716,
      "height": 764,
      "title": {"text": "Same 96-second interval", "anchor": "middle", "offset": 10},
      "layer": [
        {
          "data": {"name": "speed"},
          "mark": {"type": "rule", "strokeWidth": 17, "strokeCap": "round"},
          "encoding": {
            "x": {"field": "lo", "type": "quantitative", "scale": {"domain": [341.7, 821.7], "nice": false, "zero": false},
                  "axis": {"values": [400, 500, 600, 700, 800], "grid": true, "gridColor": "#ebebeb", "gridWidth": 1.5, "title": "Projected radial pattern speed [km/s]"}},
            "x2": {"field": "hi"},
            "y": {"field": "k", "type": "quantitative", "scale": {"domain": [-0.5, 1.8], "nice": false, "zero": false},
                  "axis": {"values": [0, 1], "labelExpr": "datum.value === 1 ? 'Inner' : 'Outer'", "title": null, "grid": false}},
            "color": {"condition": {"test": "datum.k === 1", "value": "#b3dcdc"}, "value": "#f9d8b9"}
          }
        },
        {
          "data": {"name": "speed"},
          "mark": {"type": "circle", "size": 330, "opacity": 1},
          "encoding": {
            "x": {"field": "v", "type": "quantitative"},
            "y": {"field": "k", "type": "quantitative"},
            "color": {"condition": {"test": "datum.k === 1", "value": "#008b8b"}, "value": "#e8821a"}
          }
        },
        {
          "data": {"name": "speed"},
          "mark": {"type": "text", "fontSize": 27, "lineHeight": 31, "dy": -77, "baseline": "middle", "align": "center", "color": "#1e3137"},
          "encoding": {
            "x": {"field": "v", "type": "quantitative"},
            "y": {"field": "k", "type": "quantitative"},
            "text": {"field": "lab"}
          }
        },
        {
          "data": {"values": [{}]},
          "mark": {"type": "text", "fontSize": 20, "align": "left", "baseline": "middle", "color": "#1e3137"},
          "encoding": {
            "x": {"datum": 357},
            "y": {"datum": 1.66},
            "text": {"value": "05:38:32.06–05:40:08.06 UTC"}
          }
        },
        {
          "data": {"values": [{}]},
          "mark": {"type": "text", "fontSize": 20, "lineHeight": 27, "align": "left", "baseline": "middle", "color": "#1e3137"},
          "encoding": {
            "x": {"datum": 357},
            "y": {"datum": -0.358},
            "text": {"value": ["Bars: 36 declared method choices.", "They are not total errors or 1σ intervals."]}
          }
        }
      ]
    }
  ],
  "spacing": 44.6,
  "bounds": "flush",
  "config": {
    "font": "DejaVu Sans",
    "view": {"stroke": null},
    "title": {"font": "DejaVu Sans", "fontSize": 27, "fontWeight": "normal", "color": "#1e3137"},
    "axis": {"labelFont": "DejaVu Sans", "titleFont": "DejaVu Sans", "labelFontSize": 24, "titleFontSize": 23, "titleFontWeight": "normal",
             "labelColor": "#111111", "titleColor": "#1e3137", "domainColor": "#000000", "domainWidth": 1.6, "tickColor": "#000000",
             "tickWidth": 1.6, "tickSize": 8, "labelPadding": 6, "titlePadding": 12, "grid": false},
    "axisX": {"labelPadding": 12, "titlePadding": 9}
  }
}
